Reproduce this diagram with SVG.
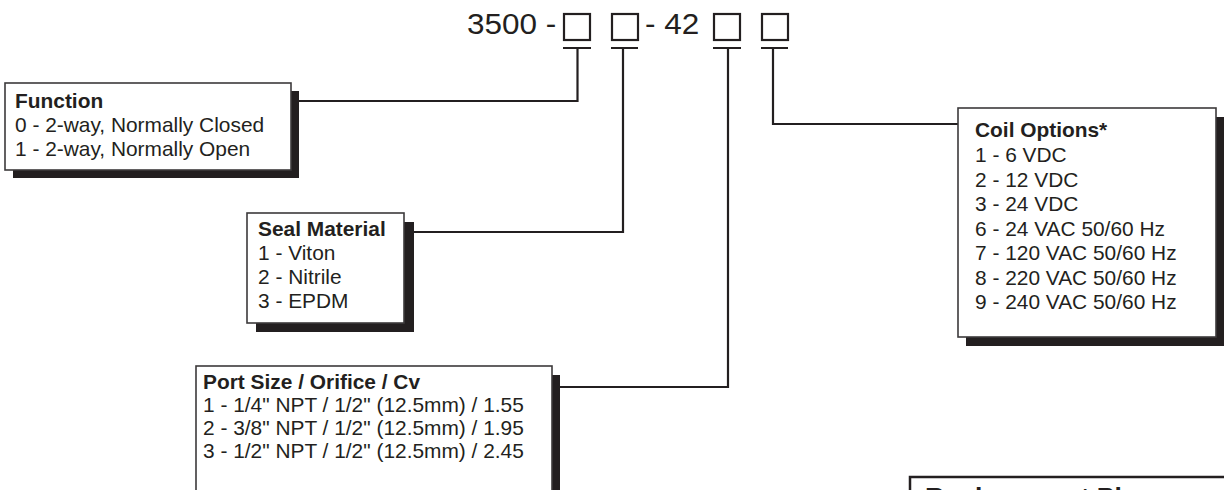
<svg xmlns="http://www.w3.org/2000/svg" width="1224" height="490" viewBox="0 0 1224 490">
<style>
.bg{fill:#ffffff}
.box{fill:#ffffff;stroke:#3c3a3b;stroke-width:1.6}
.shadow{fill:#231f20}
.sq{fill:none;stroke:#231f20;stroke-width:2.2}
.ln{fill:none;stroke:#231f20;stroke-width:2.2}
.t{font-family:"Liberation Sans",Arial,sans-serif;font-size:20px;fill:#231f20}
.h{font-family:"Liberation Sans",Arial,sans-serif;font-size:20px;font-weight:bold;fill:#231f20}
.title{font-family:"Liberation Sans",Arial,sans-serif;font-size:30px;fill:#231f20}
</style>
<rect class="bg" x="0" y="0" width="1224" height="490"/>
<g id="code">
<text class="title" transform="translate(467 34) scale(1.05 1)">3500 -</text>
<rect class="sq" x="564" y="14" width="26" height="26"/>
<rect class="sq" x="612" y="14" width="26" height="26"/>
<text class="title" transform="translate(645 34) scale(1.05 1)">- 42</text>
<rect class="sq" x="714" y="14" width="26" height="26"/>
<rect class="sq" x="762" y="14" width="26" height="26"/>
</g>
<g id="connectors">
<path class="ln" d="M563 48H591M611 48H638M713 48H741M761 48H788"/>
<path class="ln" d="M577.5 48V101H299"/>
<path class="ln" d="M623 48V232H414"/>
<path class="ln" d="M728 48V387H560"/>
<path class="ln" d="M773 48V124H958"/>
</g>
<g id="function">
<rect class="shadow" x="13" y="91" width="286" height="87"/>
<rect class="box" x="5" y="83" width="286" height="87"/>
<text class="h" transform="translate(15 108) scale(1.045 1)">Function</text>
<text class="t" transform="translate(15 132) scale(1.045 1)">0 - 2-way, Normally Closed</text>
<text class="t" transform="translate(15 156) scale(1.045 1)">1 - 2-way, Normally Open</text>
</g>
<g id="seal">
<rect class="shadow" x="256" y="222" width="158" height="110"/>
<rect class="box" x="247" y="213" width="157" height="110"/>
<text class="h" transform="translate(258 236) scale(1.045 1)">Seal Material</text>
<text class="t" transform="translate(258 260) scale(1.045 1)">1 - Viton</text>
<text class="t" transform="translate(258 284) scale(1.045 1)">2 - Nitrile</text>
<text class="t" transform="translate(258 308) scale(1.045 1)">3 - EPDM</text>
</g>
<g id="port">
<rect class="shadow" x="204" y="375" width="356" height="140"/>
<rect class="box" x="196" y="366" width="356" height="140"/>
<text class="h" transform="translate(203 389) scale(1.045 1)">Port Size / Orifice / Cv</text>
<text class="t" transform="translate(203 412) scale(1.045 1)">1 - 1/4" NPT / 1/2" (12.5mm) / 1.55</text>
<text class="t" transform="translate(203 435) scale(1.045 1)">2 - 3/8" NPT / 1/2" (12.5mm) / 1.95</text>
<text class="t" transform="translate(203 458) scale(1.045 1)">3 - 1/2" NPT / 1/2" (12.5mm) / 2.45</text>
</g>
<g id="coil">
<rect class="shadow" x="966" y="117" width="258" height="229"/>
<rect class="box" x="958" y="108" width="258" height="229"/>
<text class="h" transform="translate(975 137) scale(1.045 1)">Coil Options*</text>
<text class="t" transform="translate(975 162) scale(1.045 1)">1 - 6 VDC</text>
<text class="t" transform="translate(975 187) scale(1.045 1)">2 - 12 VDC</text>
<text class="t" transform="translate(975 211) scale(1.045 1)">3 - 24 VDC</text>
<text class="t" transform="translate(975 236) scale(1.045 1)">6 - 24 VAC 50/60 Hz</text>
<text class="t" transform="translate(975 260) scale(1.045 1)">7 - 120 VAC 50/60 Hz</text>
<text class="t" transform="translate(975 285) scale(1.045 1)">8 - 220 VAC 50/60 Hz</text>
<text class="t" transform="translate(975 309) scale(1.045 1)">9 - 240 VAC 50/60 Hz</text>
</g>
<g id="plunger">
<rect x="910" y="477" width="340" height="40" fill="#ffffff" stroke="#231f20" stroke-width="2.5"/>
<text class="h" style="font-size:23px" transform="translate(925 505) scale(1.15 1)">Replacement Plunger</text>
</g>
</svg>
